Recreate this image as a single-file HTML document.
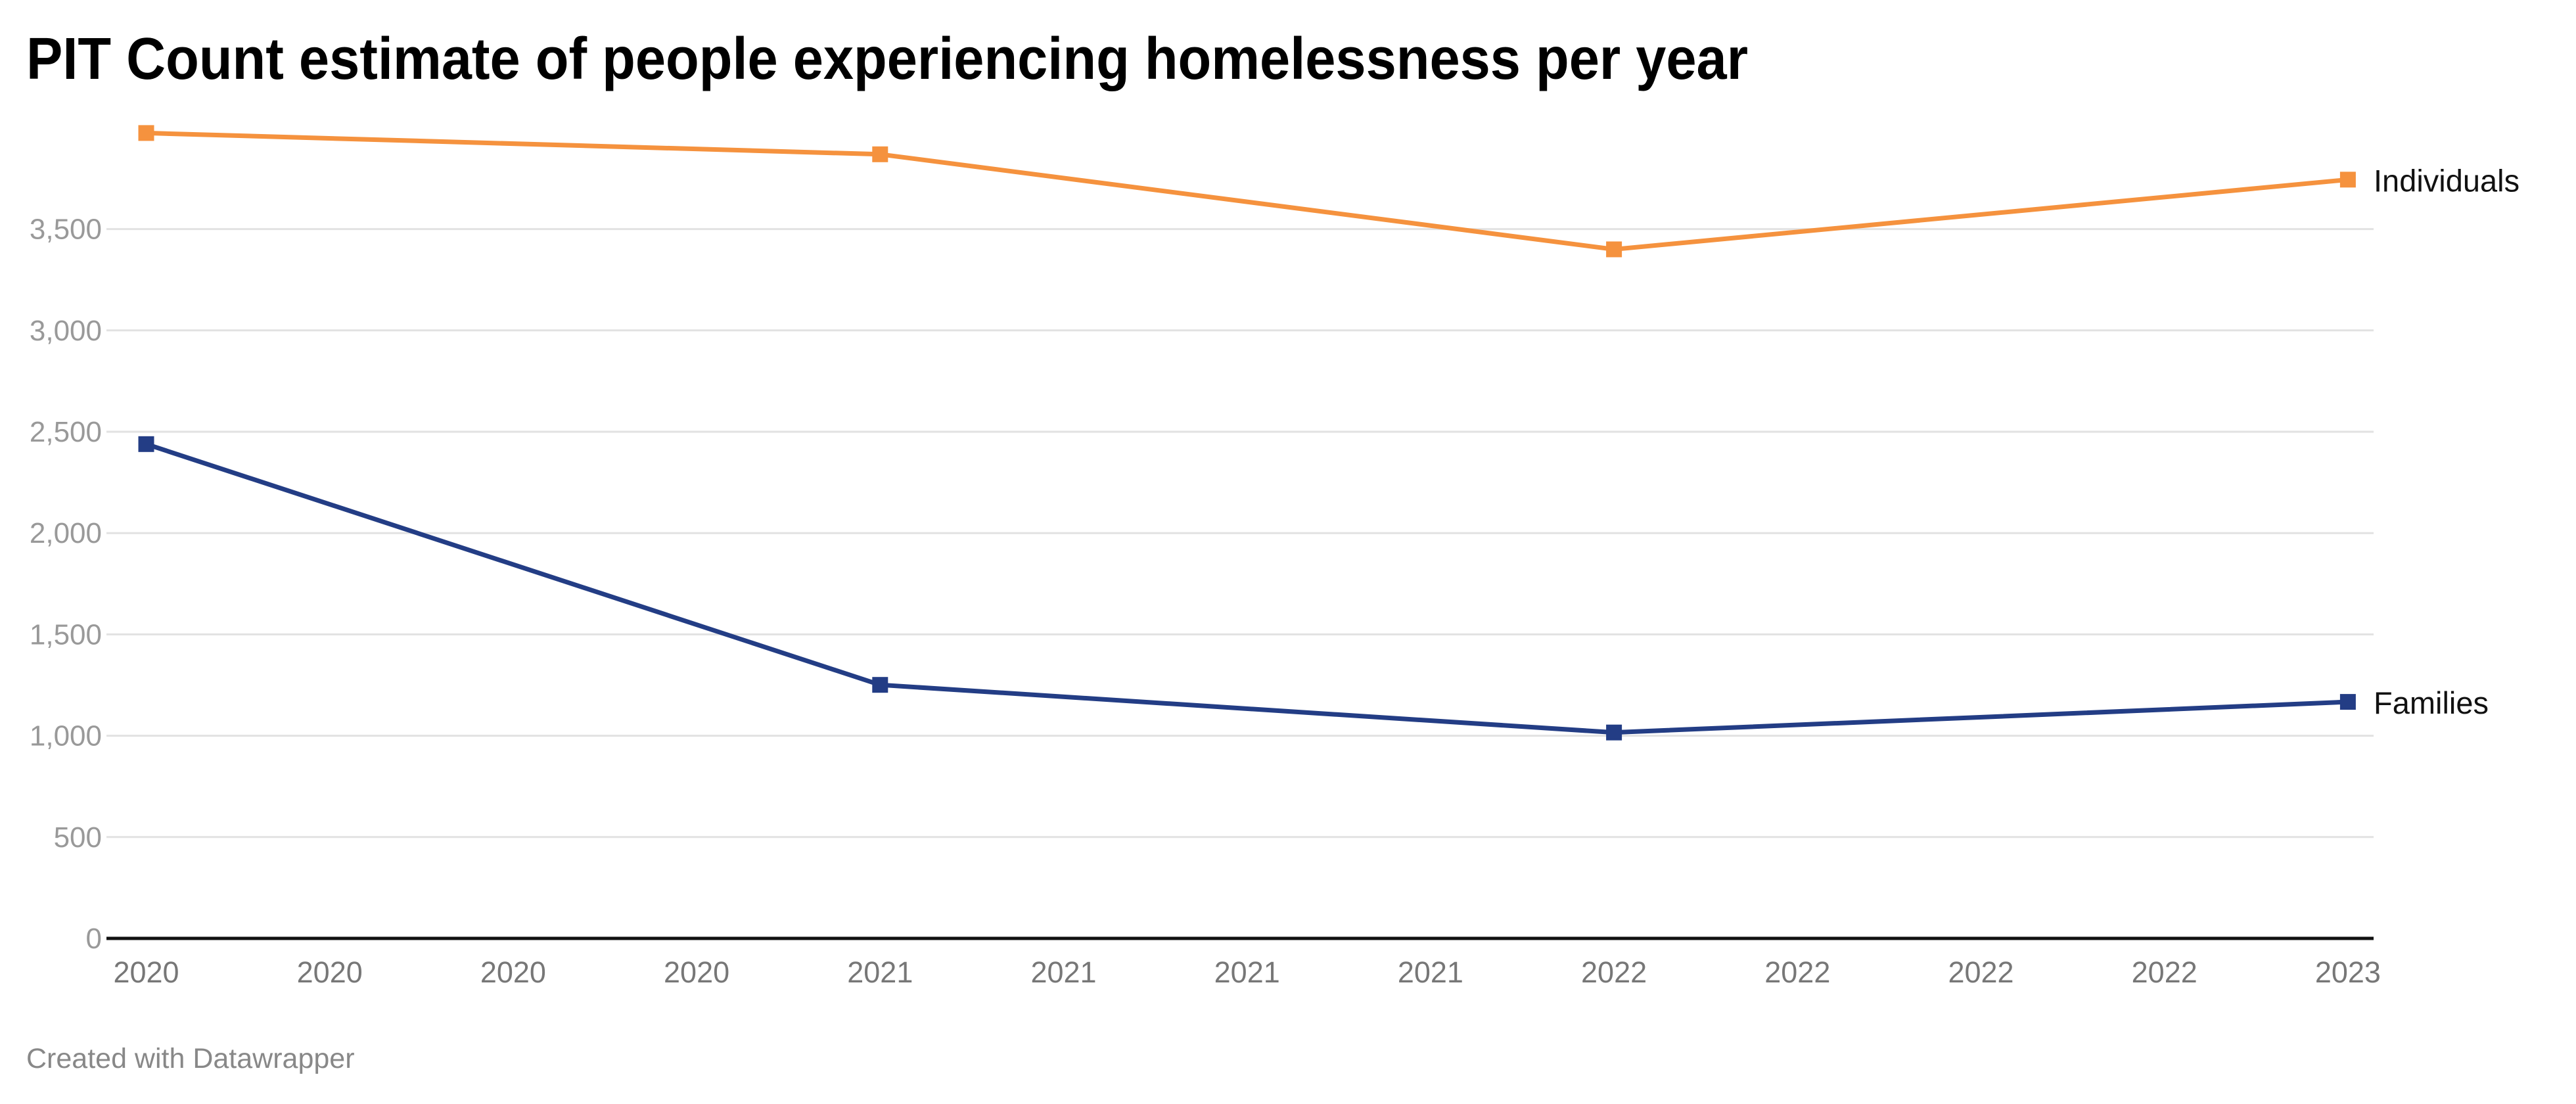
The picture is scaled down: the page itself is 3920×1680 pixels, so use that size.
<!DOCTYPE html>
<html><head><meta charset="utf-8"><style>
html,body{margin:0;padding:0;background:#fff;}
svg{display:block;font-family:"Liberation Sans",sans-serif;}
</style></head><body>
<svg id="chart" width="3920" height="1680" viewBox="0 0 3920 1680">
<text x="40" y="120" font-size="90" font-weight="bold" fill="#000" textLength="2620" lengthAdjust="spacingAndGlyphs">PIT Count estimate of people experiencing homelessness per year</text>
<g id="grid"></g><g id="xlabels"></g><g id="series"></g>
<text x="40" y="1625" font-size="43" fill="#888">Created with Datawrapper</text>
</svg>
<script>
const xLabels = ["2020","2020","2020","2020","2021","2021","2021","2021","2022","2022","2022","2022","2023"];
const yTicks = [0,500,1000,1500,2000,2500,3000,3500];
const pointIndex = [0,4,8,12];
const individuals = [3974,3869,3400,3744];
const families = [2439,1251,1016,1167];
const seriesNames = ["Individuals","Families"];

const NS="http://www.w3.org/2000/svg";
const x0=222.5, step=279.2, yZero=1428, pxPer=154.2/500;
const xs=i=>x0+i*step, ys=v=>yZero-v*pxPer;
function mk(tag,attrs,parent){const e=document.createElementNS(NS,tag);for(const k in attrs)e.setAttribute(k,attrs[k]);parent.appendChild(e);return e;}
const grid=document.getElementById('grid');
yTicks.forEach(v=>{
  const l=mk('line',{x1:162,x2:3612,y1:ys(v),y2:ys(v),stroke:v===0?'#111':'#e2e2e2','stroke-width':v===0?5:3},grid);
  
  
  const t=mk('text',{x:155,y:ys(v)+15,'text-anchor':'end','font-size':44,fill:'#999'},grid);
  t.textContent=v.toLocaleString('en-US');
  
  
});
const xl=document.getElementById('xlabels');
xLabels.forEach((s,i)=>{
  const t=mk('text',{x:xs(i),y:1495,'text-anchor':'middle','font-size':45,fill:'#777'},xl);
  t.textContent=s;
  
  
});
const sg=document.getElementById('series');
[[individuals,'#f5923e'],[families,'#233d85']].forEach(([vals,col],si)=>{
  const pts=vals.map((v,k)=>xs(pointIndex[k])+','+ys(v)).join(' ');
  const pl=mk('polyline',{points:pts,fill:'none',stroke:col,'stroke-width':7,'stroke-linejoin':'round'},sg);
  
  
  vals.forEach((v,k)=>{
    const r=mk('rect',{x:xs(pointIndex[k])-12,y:ys(v)-12,width:24,height:24,fill:col},sg);
    
    
  });
  const t=mk('text',{x:3612,y:ys(vals[vals.length-1])+18,'font-size':47,fill:'#111'},sg);
  t.textContent=seriesNames[si];
  
  
});
</script>
</body></html>
